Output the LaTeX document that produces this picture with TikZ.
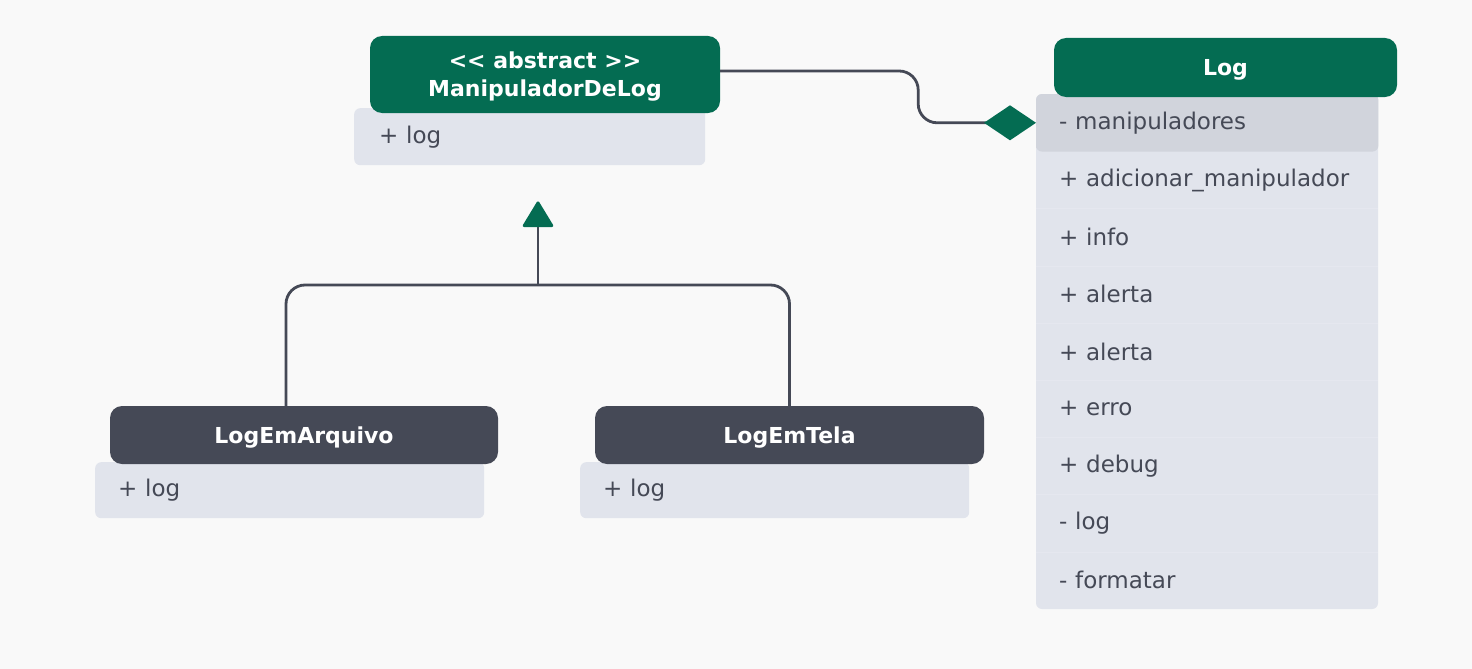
\documentclass[tikz,border=0pt]{standalone}
\usepackage{fontspec}
\setmainfont{DejaVu Sans}
\usepackage{xcolor}
\usetikzlibrary{arrows.meta, positioning, shapes.geometric}

\definecolor{umlgreen}{RGB}{4,108,82}
\definecolor{umldark}{RGB}{69,73,86}
\definecolor{umlfill}{RGB}{225,228,236}
\definecolor{umlsel}{RGB}{209,212,220}
\definecolor{umlline}{RGB}{229,231,239}
\definecolor{umlbg}{RGB}{249,249,249}

\begin{document}
\begin{tikzpicture}[x=1pt, y=-1pt,
  every node/.style={font=\fontsize{23}{27}\selectfont},
  head/.style={rectangle, rounded corners=12pt, fill=umlgreen, text=white, inner sep=0pt,
    text depth=0pt, align=center, font=\bfseries\fontsize{22}{28}\selectfont},
  child/.style={head, fill=umldark},
  member/.style={rectangle, rounded corners=6pt, fill=umlfill, text=umldark, anchor=north west,
    inner xsep=23pt, inner ysep=0pt, text width=#1, align=left},
  conn/.style={draw=umldark, line width=2.8pt, rounded corners=19pt}]
  \fill[umlbg] (0,0) rectangle (1472,669);

  % classe abstrata
  \node[member=301pt, minimum height=57pt, inner xsep=25pt] (mdlm) at (354,108) {+ log};
  \node[head, minimum width=350pt, minimum height=77pt] (mdl) at (545,74.5) {{<}{<} abstract {>}{>}\\ManipuladorDeLog};

  % classe Log
  \fill[umlfill, rounded corners=6pt] (1036,94) rectangle (1378,609);
  \foreach \txt [count=\i] in {- manipuladores, + adicionar\_manipulador, + info, + alerta,
      + alerta, + erro, + debug, - log, - formatar}
    \node[member=296pt, minimum height=57.2pt, fill=none] (m\i) at (1036,{94+(\i-1)*57.2}) {\txt};
  \fill[umlsel, rounded corners=6pt] (m1.south west) |- (m1.north east) |- cycle;
  \node[member=296pt, minimum height=57.2pt, fill=none] at (m1.north west) {- manipuladores};
  \foreach \i in {2,...,8}
    \draw[umlline, line width=1pt] (m\i.south west) -- (m\i.south east);
  \node[head, minimum width=343pt, minimum height=59pt] (log) at (1225.5,67.5) {Log};

  % subclasses
  \node[member=343pt, minimum height=56pt] (arqm) at (95,462) {+ log};
  \node[child, minimum width=388pt, minimum height=58pt] (arq) at (304,435) {LogEmArquivo};
  \node[member=343pt, minimum height=56pt] (telam) at (580,462) {+ log};
  \node[child, minimum width=389pt, minimum height=58pt] (tela) at (789.5,435) {LogEmTela};

  % composicao
  \draw[conn, -{Diamond[length=52pt, width=35pt, color=umlgreen, fill=umlgreen]}]
    ([yshift=3.5pt]mdl.east) -- ++(198,0) |- (m1.west);

  % heranca
  \coordinate (join) at (538,285);
  \draw[conn] ([xshift=-18pt]arq.north) |- (join) -| (tela.north);
  \draw[conn, -{Triangle[length=27pt, width=32pt, round, color=umlgreen, fill=umlgreen]}, shorten >=36pt]
    (join) -- (join |- mdlm.south);
\end{tikzpicture}
\end{document}
